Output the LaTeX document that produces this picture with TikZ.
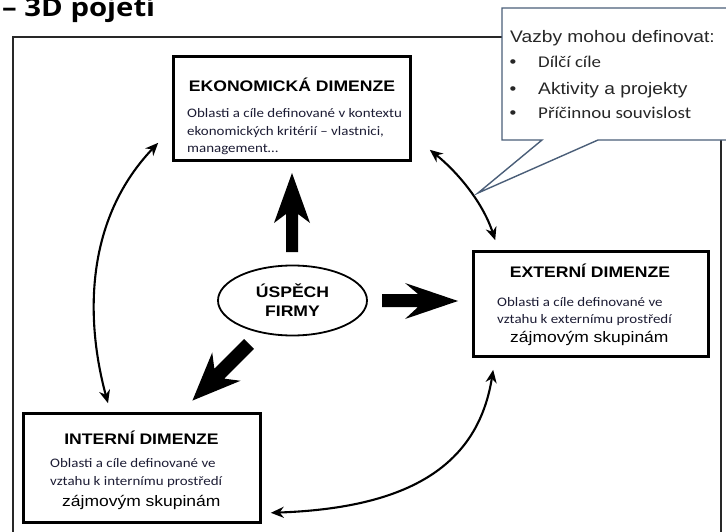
\documentclass[tikz,border=0pt]{standalone}
\usepackage{fontspec}
\usetikzlibrary{shapes.geometric,arrows.meta,calc}
\newfontfamily\headfont[FakeStretch=1.15]{Liberation Sans}
\newfontfamily\bodyfont[FakeStretch=1.15]{Carlito}
\newfontfamily\titlefont[FakeStretch=1.15]{Open Sans}
\definecolor{calloutline}{RGB}{74,94,120}
\definecolor{bodyink}{RGB}{28,28,52}
\definecolor{frameink}{RGB}{40,40,40}
\tikzset{
  dimbox/.style={draw=black, line width=2.6pt, minimum width=#1},
  hdtext/.style={inner sep=0, anchor=base, font=\headfont\bfseries\fontsize{15.3}{18}\selectfont},
  bodyline/.style={inner sep=0, anchor=base west, text=bodyink, font=\bodyfont\fontsize{13}{16}\selectfont},
  zajline/.style={inner sep=0, anchor=base west, font=\headfont\fontsize{15.2}{18}\selectfont},
  link/.style={line width=2.1pt, {Stealth[length=13pt,width=11pt]}-{Stealth[length=13pt,width=11pt]}},
  bigarrow/.style={fill=black},
  callout/.style={draw=calloutline, fill=white, line width=1.4pt, line join=miter},
  notetext/.style={inner sep=0, anchor=base west, text=black!85, font=\headfont\fontsize{16.7}{20}\selectfont}
}
\begin{document}
\begin{tikzpicture}[x=1pt,y=-1pt]
    \useasboundingbox (0,0) rectangle (726,532);
    \clip (0,0) rectangle (726,532);
    % title, cut at the top
    \node[inner sep=0, anchor=base west, font=\titlefont\bfseries\fontsize{25.5}{30}\selectfont] (title) at (2,17) {– 3D pojetí};
    % frame
    \draw[frameink, line width=1.8pt] (13,37) rectangle (721,560);

    % the three dimensions
    \node[dimbox=237pt, minimum height=104pt] (ekon) at (292,108.5) {};
    \node[dimbox=235pt, minimum height=105pt] (ext) at (591,304) {};
    \node[dimbox=237pt, minimum height=109pt] (int) at (142,468) {};

    \node[hdtext] (ekonhd) at (292,92) {EKONOMICKÁ DIMENZE};
    \node[bodyline] (ekon1) at (187,118) {Oblasti a cíle definované v kontextu};
    \node[bodyline] (ekon2) at (187,135.5) {ekonomických kritérií – vlastnici,};
    \node[bodyline] (ekon3) at (187,153) {management…};

    \node[hdtext] (exthd) at (590,277) {EXTERNÍ DIMENZE};
    \node[bodyline] (ext1) at (497,306) {Oblasti a cíle definované ve};
    \node[bodyline] (ext2) at (497,323) {vztahu k externímu prostředí};
    \node[zajline] (ext3) at (510,342) {zájmovým skupinám};

    \node[hdtext] (inthd) at (141.5,444) {INTERNÍ DIMENZE};
    \node[bodyline] (int1) at (50,467) {Oblasti a cíle definované ve};
    \node[bodyline] (int2) at (50,485) {vztahu k internímu prostředí};
    \node[zajline] (int3) at (62,506) {zájmovým skupinám};

    % centre
    \node[draw, ellipse, line width=1.8pt, minimum width=149pt, minimum height=70pt,
          align=center, font=\headfont\bfseries\fontsize{15.3}{19}\selectfont] (uspech) at (292.5,300.5) {ÚSPĚCH\\FIRMY};

    % block arrows
    \fill[bigarrow] (286,252) -- (286,214) -- (274,223) -- (292,173) -- (310,223) -- (298,214) -- (298,252) -- cycle;
    \fill[bigarrow] (382,294) -- (418,294) -- (405,283) -- (458,301) -- (405,319) -- (418,307) -- (382,307) -- cycle;
    \begin{scope}[shift={(249,344)}, rotate=-135]
        \fill[bigarrow] (0,-7) -- (42,-7) -- (32,-20) -- (80,0) -- (32,20) -- (42,7) -- (0,7) -- cycle;
    \end{scope}

    % links between dimensions
    \draw[link] ($(ekon.south west)+(-14,-19)$) .. controls (80,225) and (88,330) .. ($(int.north)+(-34,-9)$);
    \draw[link] ($(ekon.south east)+(18,-12)$) .. controls (455,170) and (482,200) .. ($(ext.north west)+(23,-10)$);
    \draw[link] ($(ext.south west)+(21,12)$) .. controls (478,465) and (410,508) .. ($(int.south east)+(9,-11)$);

    % callout
    \draw[callout] (502,8) -- (740,8) -- (740,140) -- (598,140) -- (478,193) -- (542,140) -- (502,140) -- cycle;
    \node[notetext] (vazby) at (510,43) {Vazby mohou definovat:};
    \foreach \yb/\nm in {68/b1, 95/b2, 119/b3}
        \node[notetext, anchor=base] (\nm) at (513,\yb) {•};
    \node[notetext, font=\bodyfont\fontsize{16.4}{20}\selectfont] (cile) at (538,68) {Dílčí cíle};
    \node[notetext] (aktiv) at (538,95) {Aktivity a projekty};
    \node[notetext, font=\bodyfont\fontsize{16.5}{20}\selectfont] (pricin) at (538,119) {Příčinnou souvislost};
\end{tikzpicture}
\end{document}
